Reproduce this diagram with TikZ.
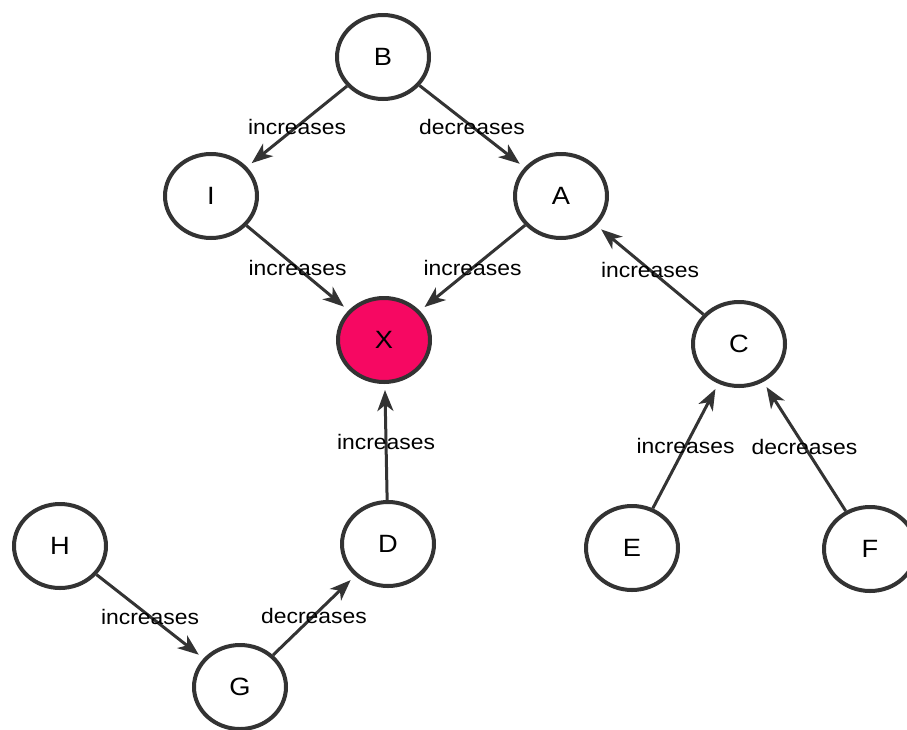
\documentclass[tikz,border=0pt]{standalone}
\usepackage{fontspec}
\setmainfont{Liberation Sans}
\usetikzlibrary{shapes.geometric,arrows.meta}
\definecolor{edgegray}{HTML}{333333}
\definecolor{xpink}{RGB}{246,8,98}
\newcommand{\wtxt}[1]{\scalebox{1.09}[1]{#1}}
\begin{document}
\begin{tikzpicture}[x=1pt,y=-1pt,
  vnode/.style={ellipse,draw=edgegray,line width=4pt,minimum width=92pt,minimum height=84pt,inner sep=0pt,font=\fontsize{25}{30}\selectfont,fill=white},
  rel/.style={-{Stealth[length=21pt,width=16pt,inset=6pt]},line width=3pt,draw=edgegray,shorten >=6pt},
  lbl/.style={font=\fontsize{21}{25}\selectfont,text=black,inner sep=0pt}]
\useasboundingbox (0,0) rectangle (907,729);
\node[vnode] (B) at (383,57) {\wtxt{B}};
\node[vnode] (I) at (211,196) {\wtxt{I}};
\node[vnode] (A) at (561,196) {\wtxt{A}};
\node[vnode,fill=xpink] (X) at (384,340) {\wtxt{X}};
\node[vnode] (C) at (739,344) {\wtxt{C}};
\node[vnode] (D) at (388,544) {\wtxt{D}};
\node[vnode] (E) at (632,548) {\wtxt{E}};
\node[vnode] (F) at (870,549) {\wtxt{F}};
\node[vnode] (H) at (60,546) {\wtxt{H}};
\node[vnode] (G) at (240,687) {\wtxt{G}};
\draw[rel] (B) -- node[lbl]{\wtxt{increases}} (I);
\draw[rel] (B) -- node[lbl]{\wtxt{decreases}} (A);
\draw[rel] (I) -- node[lbl]{\wtxt{increases}} (X);
\draw[rel] (A) -- node[lbl]{\wtxt{increases}} (X);
\draw[rel] (C) -- node[lbl]{\wtxt{increases}} (A);
\draw[rel] (D) -- node[lbl]{\wtxt{increases}} (X);
\draw[rel] (E) -- node[lbl]{\wtxt{increases}} (C);
\draw[rel] (F) -- node[lbl]{\wtxt{decreases}} (C);
\draw[rel] (H) -- node[lbl]{\wtxt{increases}} (G);
\draw[rel] (G) -- node[lbl]{\wtxt{decreases}} (D);
\end{tikzpicture}
\end{document}
